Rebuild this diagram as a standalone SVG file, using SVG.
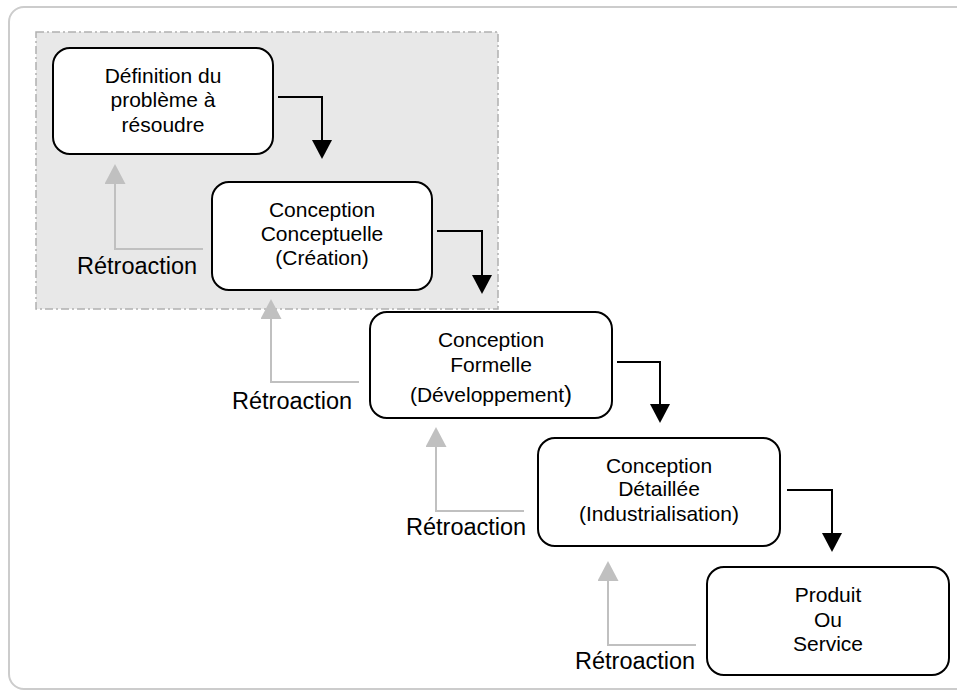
<svg xmlns="http://www.w3.org/2000/svg" width="957" height="699" viewBox="0 0 957 699">
<style>
.box{fill:#fff;stroke:#000;stroke-width:2}
.t{font-family:"Liberation Sans",Arial,sans-serif;font-size:21px;fill:#000;text-anchor:middle}
.r{font-family:"Liberation Sans",Arial,sans-serif;font-size:23.5px;fill:#000}
.fw{fill:none;stroke:#000;stroke-width:2}
.fb{fill:none;stroke:#c0c0c0;stroke-width:2}
</style>
<defs>
<marker id="ab" markerUnits="userSpaceOnUse" viewBox="0 0 19 20" refX="0" refY="10" markerWidth="19" markerHeight="20" orient="auto">
<path d="M0,0 L19,10 L0,20 z" fill="#000"/>
</marker>
<marker id="ag" markerUnits="userSpaceOnUse" viewBox="0 0 20 21" refX="0" refY="10.5" markerWidth="20" markerHeight="21" orient="auto">
<path d="M0,0 L20,10.5 L0,21 z" fill="#c0c0c0"/>
</marker>
</defs>
<rect x="0" y="0" width="957" height="699" fill="#fff"/>
<rect x="9" y="7" width="970" height="682" rx="15" fill="#fff" stroke="#cccccc" stroke-width="2"/>
<rect id="zone" x="36" y="32" width="462" height="277" fill="#e8e8e8" stroke="#b0b0b0" stroke-width="1.5" stroke-dasharray="8,3,2,3"/>
<g id="connectors">
<path class="fw" d="M278,97 H322 V140" marker-end="url(#ab)"/>
<path class="fw" d="M437,231 H482 V275" marker-end="url(#ab)"/>
<path class="fw" d="M617,362 H660 V404" marker-end="url(#ab)"/>
<path class="fw" d="M787,490 H832 V533" marker-end="url(#ab)"/>
<path class="fb" d="M203,249 H115 V184" marker-end="url(#ag)"/>
<path class="fb" d="M359,382 H271 V319" marker-end="url(#ag)"/>
<path class="fb" d="M524,511 H436 V447" marker-end="url(#ag)"/>
<path class="fb" d="M696,645 H608 V581" marker-end="url(#ag)"/>
<text class="r" x="77" y="274">Rétroaction</text>
<text class="r" x="232" y="409">Rétroaction</text>
<text class="r" x="406" y="535">Rétroaction</text>
<text class="r" x="575" y="669">Rétroaction</text>
</g>
<g id="n1">
<rect class="box" x="53" y="48" width="220" height="106" rx="17"/>
<text class="t" x="163" y="83">Définition du</text>
<text class="t" x="163" y="107">problème à</text>
<text class="t" x="163" y="132">résoudre</text>
</g>
<g id="n2">
<rect class="box" x="212" y="182" width="220" height="108" rx="17"/>
<text class="t" x="322" y="217">Conception</text>
<text class="t" x="322" y="241">Conceptuelle</text>
<text class="t" x="322" y="265">(Création)</text>
</g>
<g id="n3">
<rect class="box" x="370" y="312" width="242" height="106" rx="17"/>
<text class="t" x="491" y="347">Conception</text>
<text class="t" x="491" y="372">Formelle</text>
<text class="t" x="491" y="402">(Développement<tspan font-size="24px">)</tspan></text>
</g>
<g id="n4">
<rect class="box" x="538" y="438" width="242" height="108" rx="17"/>
<text class="t" x="659" y="473">Conception</text>
<text class="t" x="659" y="496">Détaillée</text>
<text class="t" x="659" y="521">(Industrialisation)</text>
</g>
<g id="n5">
<rect class="box" x="707" y="567" width="242" height="108" rx="17"/>
<text class="t" x="828" y="602">Produit</text>
<text class="t" x="828" y="627">Ou</text>
<text class="t" x="828" y="651">Service</text>
</g>
</svg>
